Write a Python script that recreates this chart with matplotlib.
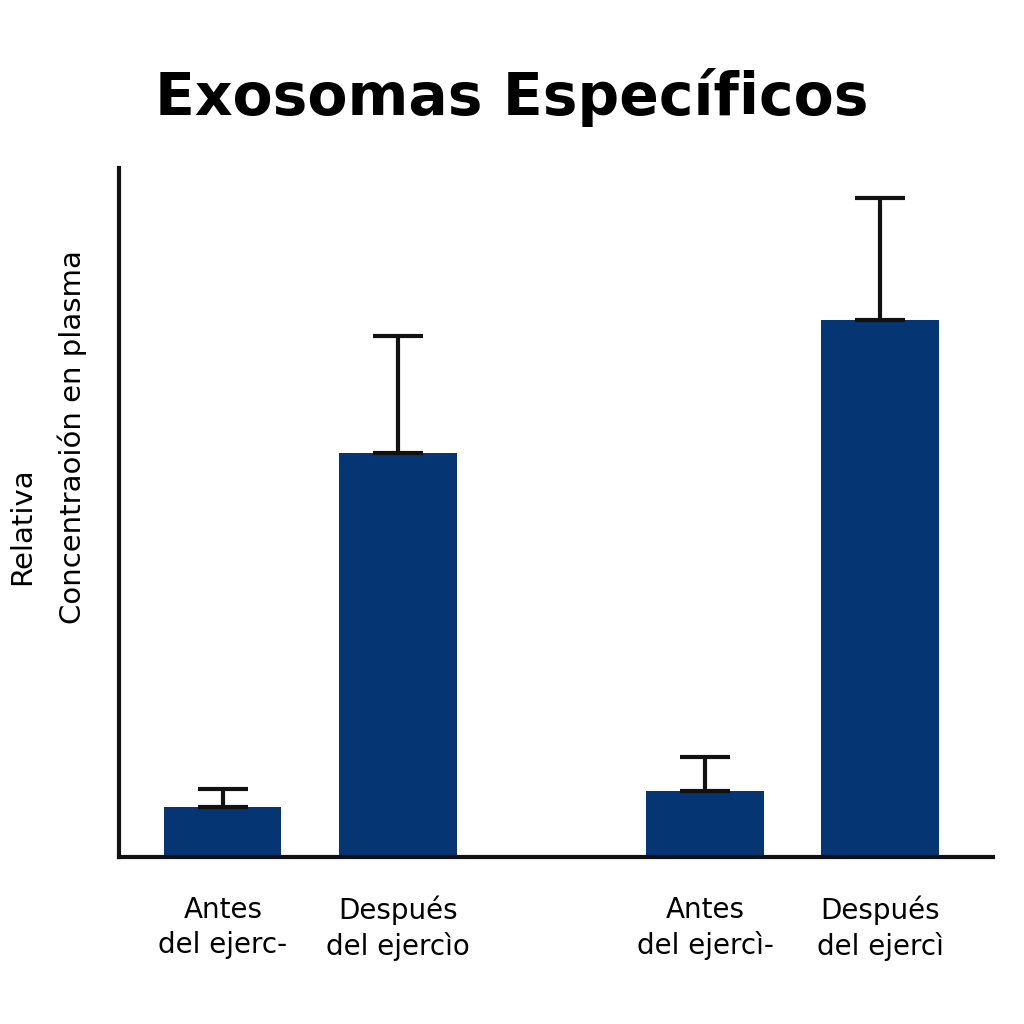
import matplotlib
matplotlib.use("Agg")
import matplotlib.pyplot as plt

categories = ["Antes\ndel ejerc-", "Después\ndel ejercìo", "Antes\ndel ejercì-", "Después\ndel ejercì"]
values = [50, 404, 66, 537]
errors = [18, 117, 34, 122]
positions = [0, 1, 2.754, 3.754]

fig = plt.figure(figsize=(10.24, 10.24), dpi=100)
ax = fig.add_axes([0.116, 0.163, 0.854, 0.673])
ax.bar(positions, values, width=0.67, color="#063574")
ax.errorbar(positions, values, yerr=[[0]*4, errors], fmt="none", ecolor="#111111",
            elinewidth=3, capsize=18, capthick=3)
ax.set_xlim(-0.594, 4.4)
ax.set_ylim(0, 689)
for s in ["top", "right"]:
    ax.spines[s].set_visible(False)
for s in ["left", "bottom"]:
    ax.spines[s].set_linewidth(3)
    ax.spines[s].set_color("#111111")
ax.set_yticks([])
ax.set_xticks(positions)
ax.set_xticklabels(categories, fontsize=20, linespacing=1.3)
ax.tick_params(axis="x", length=0, pad=28)
fig.text(0.5, 0.905, "Exosomas Específicos", ha="center", va="center", fontsize=42, fontweight="bold")
fig.text(0.022, 0.486, "Relativa", rotation=90, ha="center", va="center", fontsize=21)
fig.text(0.071, 0.573, "Concentraoión en plasma", rotation=90, ha="center", va="center", fontsize=21)
fig.savefig("out.png", dpi=100)
